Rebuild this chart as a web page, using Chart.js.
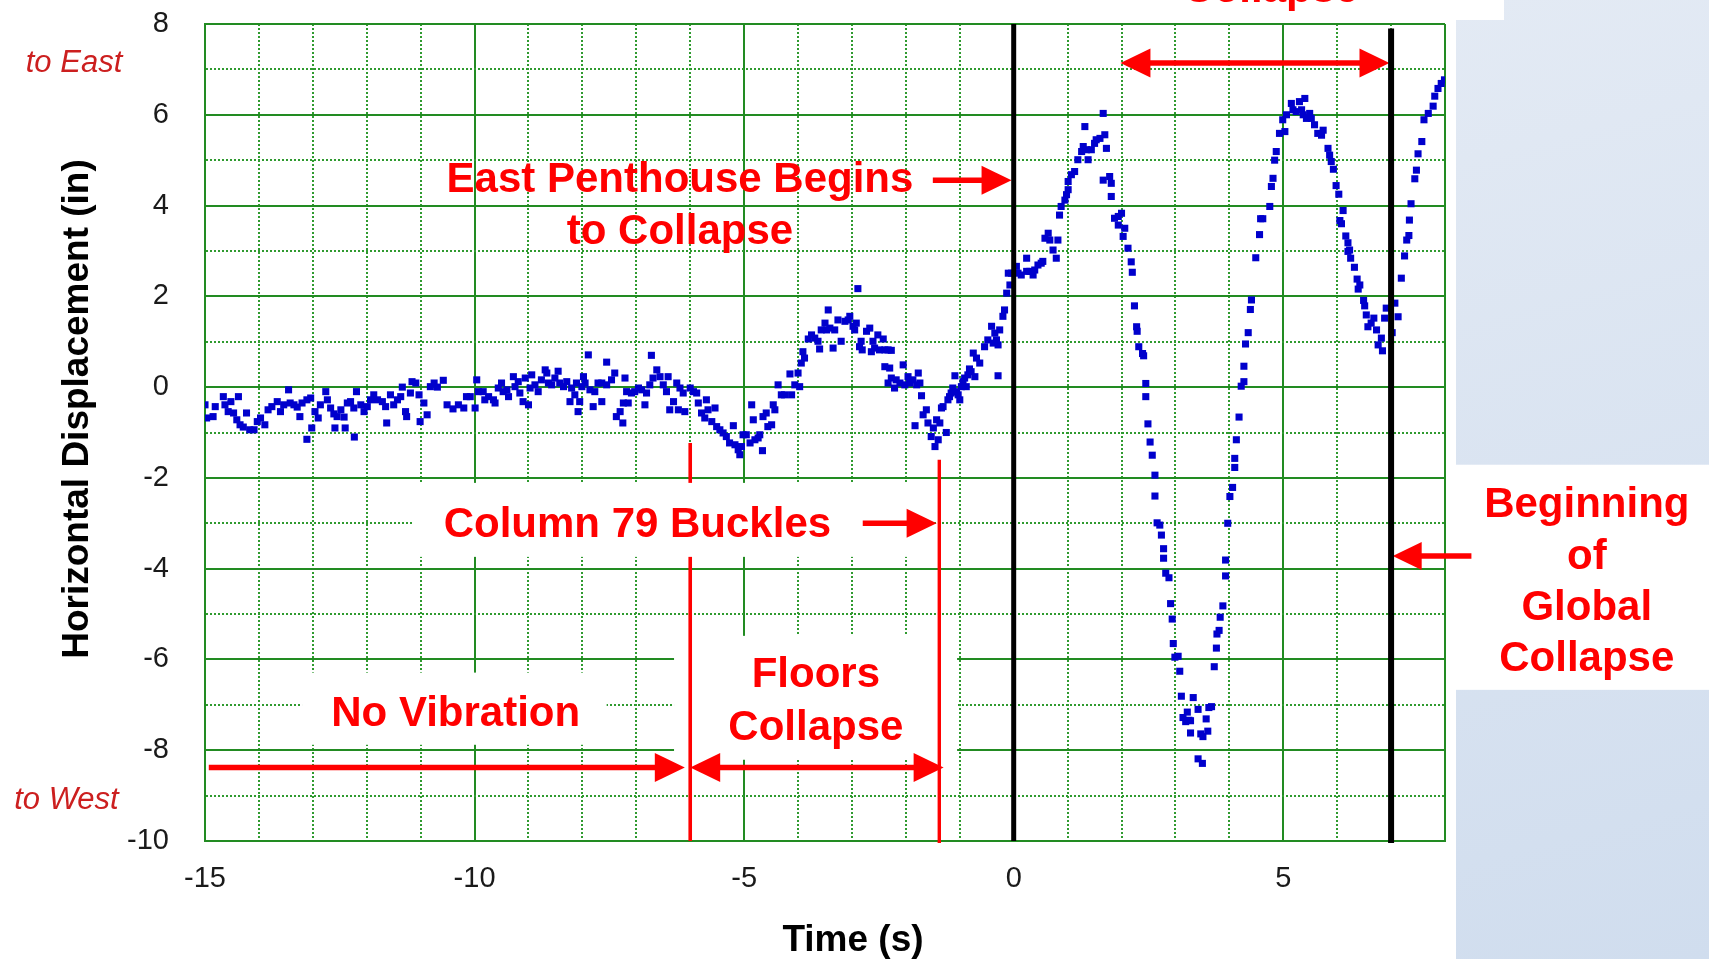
<!DOCTYPE html>
<html>
<head>
<meta charset="utf-8">
<title>Horizontal Displacement vs Time</title>
<script src="https://cdn.jsdelivr.net/npm/chart.js@4.4.1/dist/chart.umd.min.js"></script>
<style>
  html, body { margin: 0; padding: 0; background: #fff; overflow: hidden; }
  #wrap { width: 1709px; height: 959px; position: relative; }
  canvas { display: block; }
</style>
</head>
<body>
<div id="wrap"><canvas id="chart" width="1709" height="959" style="width:1709px;height:959px"></canvas></div>
<script>
// Measured roof displacement, [time (s), displacement (in)], grouped by phase.
const quietPhase = [
  [-15.00,-0.39],[-14.97,-0.68],[-14.85,-0.65],[-14.81,-0.43],[-14.66,-0.21],[-14.63,-0.39],[-14.57,-0.54],[-14.52,-0.32],
  [-14.47,-0.57],[-14.41,-0.72],[-14.38,-0.21],[-14.35,-0.83],[-14.29,-0.88],[-14.23,-0.57],[-14.17,-0.94],[-14.09,-0.94],
  [-14.03,-0.76],[-13.97,-0.68],[-13.89,-0.83],[-13.83,-0.50],[-13.76,-0.43],[-13.66,-0.32],[-13.60,-0.54],[-13.54,-0.39],
  [-13.45,-0.06],[-13.42,-0.35],[-13.35,-0.39],[-13.29,-0.44],[-13.24,-0.65],[-13.20,-0.35],[-13.11,-0.28],[-13.11,-1.15],
  [-13.04,-0.24],[-13.02,-0.90],[-12.96,-0.54],[-12.90,-0.68],[-12.86,-0.39],[-12.76,-0.10],[-12.73,-0.28],[-12.67,-0.46],
  [-12.61,-0.59],[-12.59,-0.90],[-12.55,-0.65],[-12.48,-0.50],[-12.42,-0.66],[-12.40,-0.90],[-12.36,-0.35],[-12.30,-0.32],
  [-12.24,-0.46],[-12.23,-1.10],[-12.19,-0.10],[-12.11,-0.39],[-12.05,-0.54],[-11.99,-0.43],[-11.93,-0.28],[-11.87,-0.17],
  [-11.80,-0.28],[-11.71,-0.32],[-11.65,-0.43],[-11.63,-0.79],[-11.56,-0.17],[-11.50,-0.39],[-11.43,-0.28],[-11.37,-0.21],
  [-11.34,0.00],[-11.28,-0.54],[-11.26,-0.65],[-11.19,-0.13],[-11.16,0.12],[-11.09,0.09],[-11.03,-0.17],[-11.01,-0.76],
  [-10.94,-0.35],[-10.88,-0.61],[-10.82,0.01],[-10.75,0.09],[-10.69,0.00],[-10.58,0.15],[-10.51,-0.39],[-10.40,-0.48],
  [-10.30,-0.39],[-10.20,-0.46],[-10.15,-0.21],
  [-10.08,-0.21],[-9.99,-0.46],[-9.96,0.16],[-9.93,-0.10],[-9.84,-0.10],[-9.81,-0.28],[-9.74,-0.21],[-9.65,-0.28],
  [-9.62,-0.35],[-9.56,-0.02],[-9.50,0.09],[-9.47,-0.10],[-9.40,-0.06],[-9.37,-0.21],[-9.28,0.23],[-9.25,0.01],
  [-9.19,0.12],[-9.16,-0.13],[-9.10,-0.32],[-9.06,0.20],[-9.00,-0.39],[-8.97,-0.02],[-8.94,0.27],[-8.88,0.05],
  [-8.82,-0.10],[-8.76,0.16],[-8.69,0.38],[-8.66,0.31],[-8.63,0.09],[-8.57,0.05],[-8.51,0.20],[-8.45,0.35],
  [-8.42,0.09],[-8.35,0.01],[-8.29,0.12],[-8.23,-0.32],[-8.20,-0.02],[-8.14,-0.17],[-8.11,0.09],[-8.08,-0.54],
  [-8.05,-0.32],[-8.01,0.01],[-7.98,0.23],[-7.95,0.09],[-7.89,0.71],[-7.86,-0.06],[-7.80,-0.43],[-7.77,-0.10],
  [-7.71,0.09],[-7.64,0.09],[-7.64,-0.32],[-7.55,0.55],[-7.55,0.05],[-7.46,0.16],[-7.40,0.31],[-7.37,-0.65],
  [-7.30,-0.54],[-7.25,-0.79],[-7.24,-0.35],[-7.21,0.20],[-7.18,-0.10],[-7.15,-0.35],[-7.09,-0.13],[-7.03,-0.10],
  [-6.96,-0.02],[-6.90,-0.06],[-6.84,-0.39],[-6.81,-0.13],[-6.75,0.05],[-6.72,0.70],[-6.69,0.20],[-6.62,0.38],
  [-6.56,0.23],[-6.50,0.05],[-6.44,-0.10],[-6.41,0.23],[-6.38,-0.50],[-6.31,-0.32],[-6.25,0.09],[-6.22,-0.50],
  [-6.19,-0.02],[-6.13,-0.13],[-6.10,-0.54]
];
const floorsPhase = [
  [-6.00,-0.02],[-5.94,-0.10],[-5.88,-0.13],[-5.85,-0.35],[-5.79,-0.57],[-5.73,-0.68],[-5.70,-0.28],[-5.67,-0.50],
  [-5.60,-0.76],[-5.54,-0.46],[-5.51,-0.87],[-5.45,-0.94],[-5.39,-1.01],[-5.33,-1.09],[-5.27,-1.23],[-5.20,-0.85],
  [-5.17,-1.27],[-5.11,-1.38],[-5.08,-1.49],[-5.05,-1.31],[-5.02,-1.05],[-4.96,-1.05],[-4.89,-1.23],[-4.86,-0.39],
  [-4.83,-0.72],[-4.80,-1.16],[-4.74,-1.12],[-4.71,-1.05],[-4.66,-1.40],[-4.65,-0.65],[-4.59,-0.57],[-4.56,-0.87],
  [-4.49,-0.83],[-4.46,-0.39],[-4.43,-0.50],[-4.37,0.05],[-4.31,-0.17],[-4.25,-0.17],[-4.15,0.29],[-4.12,-0.17],
  [-4.06,0.05],[-4.00,0.31],[-3.97,0.01],[-3.94,0.53],[-3.91,0.78],[-3.88,0.64],[-3.81,1.06],[-3.75,1.15],
  [-3.69,1.08],[-3.63,1.01],[-3.60,0.84],[-3.57,1.26],[-3.50,1.41],[-3.47,1.26],[-3.44,1.70],[-3.41,1.30],
  [-3.35,0.86],[-3.32,1.26],[-3.26,1.48],[-3.20,1.01],[-3.13,1.45],[-3.07,1.48],[-3.04,1.56],[-2.98,1.34],
  [-2.95,1.26],[-2.92,1.41],[-2.89,2.17],[-2.86,0.89],[-2.83,1.01],[-2.81,0.82],[-2.73,1.23],[-2.67,1.30],
  [-2.64,0.78],[-2.61,1.01],[-2.58,0.86],[-2.52,1.15],[-2.49,0.82],[-2.42,1.06],[-2.39,0.82],[-2.39,0.45],
  [-2.33,0.82],[-2.33,0.09],[-2.30,0.42],[-2.27,0.81],[-2.27,0.20],[-2.21,-0.02],[-2.18,0.16],[-2.11,0.09],
  [-2.05,0.49],[-2.02,0.05],[-1.96,0.23],[-1.93,0.09],[-1.87,0.16],[-1.83,-0.85],[-1.80,0.05],[-1.77,0.31],
  [-1.74,0.09],[-1.71,-0.19],[-1.68,-0.61],[-1.62,-0.50],[-1.59,-0.79],[-1.53,-1.09],[-1.49,-0.90],[-1.46,-1.31],
  [-1.43,-0.72],[-1.40,-1.16],[-1.37,-0.79],[-1.34,-0.46],[-1.31,-0.43],[-1.25,-1.00],[-1.22,-0.28],[-1.19,-0.21],
  [-1.16,-0.13],[-1.13,-0.02],[-1.09,0.25],[-1.06,-0.10],[-1.03,-0.17],[-1.00,-0.28],[-0.97,0.01],[-0.94,0.12],
  [-0.91,0.20],[-0.88,0.01],[-0.85,0.27],[-0.82,0.40],[-0.79,0.34],[-0.75,0.75],[-0.72,0.23],[-0.69,0.64],
  [-0.63,0.53],[-0.54,0.89],[-0.48,1.04],[-0.41,1.34],[-0.38,0.97],[-0.35,1.19],[-0.32,1.04],[-0.29,0.93],
  [-0.29,0.25],[-0.26,1.26],[-0.20,1.56],[-0.17,1.70],[-0.13,2.07],[-0.10,2.51],[-0.07,2.25],[-0.04,2.51]
];
const penthousePhase = [
  [0.05,2.66],[0.08,2.51],[0.14,2.47],[0.24,2.84],[0.24,2.55],[0.30,2.55],[0.36,2.47],[0.39,2.58],
  [0.45,2.69],[0.51,2.73],[0.54,2.77],[0.58,3.28],[0.64,3.39],[0.67,3.24],[0.73,3.02],[0.79,2.84],
  [0.82,3.24],[0.85,3.79],[0.88,3.98],[0.95,4.12],[0.98,4.24],[1.01,4.35],[1.01,4.53],[1.07,4.68],
  [1.13,4.75],[1.19,5.01],[1.26,5.19],[1.29,5.30],[1.32,5.74],[1.35,5.23],[1.38,5.01],[1.44,5.23],
  [1.50,5.37],[1.53,5.45],[1.60,5.48],[1.66,6.03],[1.66,4.56],[1.69,5.56],[1.72,5.26],[1.78,4.64],
  [1.81,4.49],[1.81,4.20],[1.87,3.72],[1.94,3.76],[1.94,3.57],[2.00,3.83],[2.03,3.32],[2.06,3.50],
  [2.12,3.06],[2.18,2.76],[2.20,2.53],[2.24,1.79],[2.28,1.33],[2.29,1.23],[2.32,0.89],[2.39,0.74],
  [2.41,0.69],[2.45,0.08],[2.45,-0.21],[2.49,-0.81],[2.53,-1.21],[2.57,-1.50],[2.62,-1.94],[2.62,-2.40],
  [2.66,-2.99],[2.71,-3.04],[2.74,-3.26],[2.78,-3.56],[2.78,-3.77],[2.82,-4.10],[2.88,-4.20],[2.91,-4.77],
  [2.94,-5.11],[2.96,-5.65],[2.99,-5.95],[3.05,-5.93],[3.08,-6.26],[3.11,-6.81],[3.14,-7.28],[3.19,-7.37],
  [3.22,-7.16],[3.25,-7.34],[3.28,-7.62],[3.28,-7.35],[3.33,-6.84],[3.42,-7.10],[3.42,-8.19],[3.47,-7.64],
  [3.50,-8.29],[3.51,-7.70],[3.57,-7.31],[3.60,-7.58],[3.62,-7.06],[3.67,-7.04],[3.72,-6.16],[3.76,-5.75],
  [3.77,-5.44],[3.81,-5.36],[3.83,-5.07],[3.88,-4.82],[3.93,-4.16],[3.93,-3.81],[3.97,-3.00],[4.01,-2.41],
  [4.06,-2.21],[4.10,-1.77],[4.10,-1.57],[4.13,-1.16],[4.18,-0.66],[4.22,0.02],[4.27,0.12],[4.27,0.46],
  [4.30,0.95],[4.35,1.20],[4.39,1.71],[4.41,1.92],[4.49,2.85],[4.56,3.36],[4.58,3.71],[4.62,3.71],
  [4.75,3.98],[4.78,4.42],[4.81,4.60],[4.84,5.00],[4.87,5.19],[4.93,5.59],[4.99,5.89],[5.03,5.63],
  [5.06,6.00],[5.15,6.25],[5.18,6.11],[5.24,6.07],[5.30,6.29],[5.34,6.11],[5.37,6.00],[5.40,6.36],
  [5.43,5.92],[5.49,6.03],[5.52,5.92],[5.58,5.78],[5.64,5.59],[5.71,5.55],[5.74,5.66],[5.83,5.26],
  [5.86,5.11],[5.89,4.97],[5.93,4.80],[5.98,4.44],[6.03,4.25],[6.05,3.67],[6.08,3.60],[6.11,3.89],
  [6.16,3.33],[6.20,3.18],[6.20,2.99],[6.23,3.02],[6.25,2.84],[6.32,2.64],[6.37,2.38],[6.39,2.16],
  [6.42,2.25],[6.49,1.91],[6.51,1.79],[6.54,1.59],[6.57,1.33],[6.63,1.41],[6.68,1.52],[6.73,1.26],
  [6.76,0.93],[6.82,1.08],[6.84,0.80],[6.88,1.52],[6.91,1.74]
];
const globalPhase = [
  [7.02,1.20],[7.07,1.85],[7.13,1.55],[7.19,2.40],[7.25,2.89],[7.29,3.24],[7.33,3.34],[7.34,3.68],
  [7.37,4.04],[7.44,4.59],[7.47,4.78],[7.50,5.14],[7.57,5.41],[7.61,5.89],[7.69,6.03],[7.78,6.19],
  [7.81,6.41],[7.87,6.58],[7.93,6.69],[7.99,6.77]
];

// Axis ranges and labelled ticks
const timeRange = [-15, 8];
const dispRange = [-10, 8];
const timeTicks = [-15, -10, -5, 0, 5];
const dispTicks = [8, 6, 4, 2, 0, -2, -4, -6, -8, -10];

// Event markers (s)
const penthouseTime = 0;
const globalTime = 7;
const bucklingTime = -6.0;
const floorsEndTime = -1.38;

const GRID_MAJOR = '#228b22';
const GRID_MINOR = '#2f9a2f';
const RED = '#ff0000';
const BOLD = 'bold 42px "Liberation Sans", Arial, sans-serif';
const TEXT_SHIFT = 3.5;  // optical centring of cap-height text

const isMajorTime = v => v % 5 === 0 || v === timeRange[1];
const isMajorDisp = v => v % 2 === 0;

function hArrow(ctx, xa, xb, y, opts) {
  const o = Object.assign({ start: false, end: true, head: 30, half: 14.5, width: 5.5, color: RED }, opts || {});
  const dir = xb > xa ? 1 : -1;
  ctx.save();
  ctx.strokeStyle = o.color; ctx.fillStyle = o.color; ctx.lineWidth = o.width;
  ctx.beginPath();
  ctx.moveTo(o.start ? xa + dir * (o.head - 2) : xa, y);
  ctx.lineTo(o.end ? xb - dir * (o.head - 2) : xb, y);
  ctx.stroke();
  const tri = (tip, d) => {
    ctx.beginPath();
    ctx.moveTo(tip, y);
    ctx.lineTo(tip - d * o.head, y - o.half);
    ctx.lineTo(tip - d * o.head, y + o.half);
    ctx.closePath(); ctx.fill();
  };
  if (o.end) tri(xb, dir);
  if (o.start) tri(xa, -dir);
  ctx.restore();
}

function vLine(ctx, x, y1, y2, color, width) {
  ctx.save();
  ctx.strokeStyle = color; ctx.lineWidth = width;
  ctx.beginPath(); ctx.moveTo(x, y1); ctx.lineTo(x, y2); ctx.stroke();
  ctx.restore();
}

function text(ctx, str, x, y, font, color) {
  ctx.save();
  ctx.font = font; ctx.fillStyle = color;
  ctx.textAlign = 'center'; ctx.textBaseline = 'middle';
  ctx.fillText(str, x, y + TEXT_SHIFT);
  ctx.restore();
}

const PANEL_X = 1456;

const annotations = {
  id: 'annotations',
  beforeDraw(chart) {
    const { ctx, width, height } = chart;
    ctx.save();
    ctx.fillStyle = '#fff';
    ctx.fillRect(0, 0, width, height);
    const g = ctx.createLinearGradient(PANEL_X, 0, width, height);
    g.addColorStop(0, '#e3eaf4');
    g.addColorStop(1, '#d0ddee');
    ctx.fillStyle = g;
    ctx.fillRect(PANEL_X, 0, width - PANEL_X, height);
    ctx.fillStyle = '#fff';
    ctx.fillRect(PANEL_X, 0, 48, 20);
    ctx.restore();
  },
  beforeDatasetsDraw(chart) {
    const { ctx } = chart;
    const X = v => chart.scales.x.getPixelForValue(v);
    const Y = v => chart.scales.y.getPixelForValue(v);
    const box = (t1, t2, v1, v2) => {
      ctx.save(); ctx.fillStyle = '#fff';
      ctx.fillRect(X(t1), Y(v1), X(t2) - X(t1), Y(v2) - Y(v1));
      ctx.restore();
    };

    // label backgrounds
    box(-13.2, -7.55, -6.29, -7.88);
    box(-6.30, -1.05, -5.48, -8.21);
    box(8.2, 13.0, -1.71, -6.67);

    // red event markers
    vLine(ctx, X(bucklingTime), Y(-1.23), Y(dispRange[0]), RED, 3.6);
    vLine(ctx, X(floorsEndTime), Y(-1.60), Y(dispRange[0]) + 2, RED, 3.4);

    box(-11.14, -1.56, -2.11, -3.74);

    // labels
    text(ctx, 'East Penthouse Begins', X(-6.19), Y(4.64), BOLD, RED);
    text(ctx, 'to Collapse', X(-6.19), Y(3.49), BOLD, RED);
    hArrow(ctx, X(-1.50), X(-0.04), Y(4.56));

    text(ctx, 'Column 79 Buckles', X(-6.98), Y(-2.97), BOLD, RED);
    hArrow(ctx, X(-2.80), X(-1.43), Y(-3.0));

    text(ctx, 'No Vibration', X(-10.35), Y(-7.13), BOLD, RED);
    hArrow(ctx, X(-14.93), X(-6.10), Y(-8.38));

    text(ctx, 'Floors', X(-3.67), Y(-6.27), BOLD, RED);
    text(ctx, 'Collapse', X(-3.67), Y(-7.44), BOLD, RED);
    hArrow(ctx, X(bucklingTime), X(-1.30), Y(-8.38), { start: true });

    hArrow(ctx, X(1.98), X(6.97), Y(7.14), { start: true });
    ctx.save();
    ctx.font = BOLD; ctx.fillStyle = RED; ctx.textAlign = 'center'; ctx.textBaseline = 'alphabetic';
    ctx.fillText('Collapse', X(4.77), Y(8.48));
    ctx.restore();

    ['Beginning', 'of', 'Global', 'Collapse'].forEach((s, i) => {
      text(ctx, s, X(10.63), Y([-2.54, -3.67, -4.80, -5.92][i]), BOLD, RED);
    });
    hArrow(ctx, X(8.49), X(7.03), Y(-3.72), { head: 29, half: 14 });

    // direction notes
    const note = 'italic 31px "Liberation Sans", Arial, sans-serif';
    text(ctx, 'to East', X(-17.43), Y(7.21), note, '#cc1f1f');
    text(ctx, 'to West', X(-17.57), Y(-9.02), note, '#cc1f1f');

    // axis titles
    const title = 'bold 37px "Liberation Sans", Arial, sans-serif';
    text(ctx, 'Time (s)', 853, 937, title, '#000');
    ctx.save();
    ctx.translate(74 + TEXT_SHIFT, 409);
    ctx.rotate(-Math.PI / 2);
    ctx.font = title; ctx.fillStyle = '#000';
    ctx.textAlign = 'center'; ctx.textBaseline = 'middle';
    ctx.fillText('Horizontal Displacement (in)', 0, 0);
    ctx.restore();
  },
  afterDatasetsDraw(chart) {
    const { ctx } = chart;
    const X = v => chart.scales.x.getPixelForValue(v);
    const Y = v => chart.scales.y.getPixelForValue(v);
    vLine(ctx, X(penthouseTime), Y(dispRange[1]), Y(dispRange[0]), '#000', 5);
    vLine(ctx, X(globalTime), Y(7.9), Y(dispRange[0]) + 2, '#000', 6);
  }
};

const points = [...quietPhase, ...floorsPhase, ...penthousePhase, ...globalPhase]
  .map(([t, d]) => ({ x: t, y: d }));

const tickFont = { family: '"Liberation Sans", Arial, sans-serif', size: 29 };

new Chart(document.getElementById('chart'), {
  type: 'scatter',
  data: {
    datasets: [{
      label: 'Horizontal Displacement',
      data: points,
      pointStyle: 'rect',
      pointRadius: 5,
      pointHoverRadius: 5,
      pointBackgroundColor: '#0000cc',
      pointBorderWidth: 0,
      showLine: false
    }]
  },
  options: {
    responsive: false,
    animation: false,
    events: [],
    layout: { padding: { left: 0, top: 24, right: 264, bottom: 0 } },
    plugins: { legend: { display: false }, tooltip: { enabled: false } },
    scales: {
      x: {
        type: 'linear',
        min: timeRange[0], max: timeRange[1],
        afterFit: s => { s.height = 118; s.paddingLeft = 0; s.paddingRight = 0; },
        ticks: {
          stepSize: 1, autoSkip: false, maxRotation: 0, padding: 21,
          font: tickFont, color: '#1a1a1a',
          callback: v => timeTicks.includes(v) ? String(v) : ''
        },
        grid: {
          drawTicks: false,
          color: c => (c.tick && isMajorTime(c.tick.value)) ? GRID_MAJOR : GRID_MINOR,
          lineWidth: 2
        },
        border: {
          display: true, color: GRID_MAJOR, width: 2,
          dash: c => (c.tick && !isMajorTime(c.tick.value)) ? [2, 2] : []
        }
      },
      y: {
        type: 'linear',
        min: dispRange[0], max: dispRange[1],
        afterFit: s => { s.width = 205; s.paddingTop = 0; s.paddingBottom = 0; },
        ticks: {
          stepSize: 1, autoSkip: false, padding: 36,
          font: tickFont, color: '#1a1a1a',
          callback: v => dispTicks.includes(v) ? String(v) : ''
        },
        grid: {
          drawTicks: false,
          color: c => (c.tick && isMajorDisp(c.tick.value)) ? GRID_MAJOR : GRID_MINOR,
          lineWidth: 2
        },
        border: {
          display: true, color: GRID_MAJOR, width: 2,
          dash: c => (c.tick && !isMajorDisp(c.tick.value)) ? [2, 2] : []
        }
      }
    }
  },
  plugins: [annotations]
});
</script>
</body>
</html>
